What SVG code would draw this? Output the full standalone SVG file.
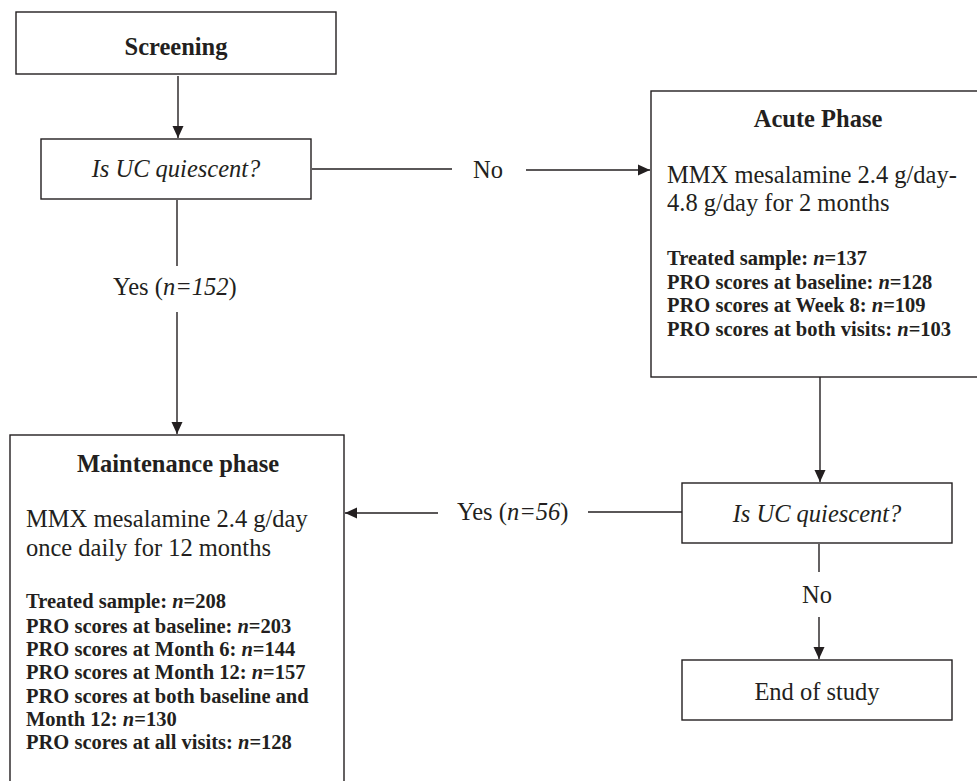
<svg xmlns="http://www.w3.org/2000/svg" width="977" height="781" viewBox="0 0 977 781">
<style>
.box{fill:#fff;stroke:#231f20;stroke-width:1.4}
.ln{fill:none;stroke:#231f20;stroke-width:1.4}
.t{font-family:"Liberation Serif","Times New Roman",serif;fill:#231f20}
.r{font-size:24.5px}
.h{font-size:24.5px;font-weight:bold}
.b{font-size:20.5px;font-weight:bold}
.i{font-style:italic}
</style>
<defs>
<marker id="ah" markerUnits="userSpaceOnUse" markerWidth="12" markerHeight="12" viewBox="0 0 12 12" refX="12" refY="6" orient="auto">
<path d="M0,0.5 L12,6 L0,11.5 Z" fill="#231f20"/>
</marker>
</defs>
<rect width="977" height="781" fill="#fff"/>
<g id="connectors">
<line class="ln" x1="178" y1="76" x2="178" y2="138" marker-end="url(#ah)"/>
<line class="ln" x1="312" y1="169" x2="452" y2="169"/>
<line class="ln" x1="526" y1="170" x2="650" y2="170" marker-end="url(#ah)"/>
<line class="ln" x1="177" y1="200" x2="177" y2="266"/>
<line class="ln" x1="177" y1="312" x2="177" y2="434" marker-end="url(#ah)"/>
<line class="ln" x1="820" y1="377" x2="820" y2="482" marker-end="url(#ah)"/>
<line class="ln" x1="682" y1="512" x2="588" y2="512"/>
<line class="ln" x1="438" y1="513" x2="345" y2="513" marker-end="url(#ah)"/>
<line class="ln" x1="819" y1="544" x2="819" y2="572"/>
<line class="ln" x1="819" y1="617" x2="819" y2="659" marker-end="url(#ah)"/>
<text class="t r" x="473" y="178">No</text>
<text class="t r" x="113" y="295">Yes (<tspan class="i">n=152</tspan>)</text>
<text class="t r" x="457" y="520">Yes (<tspan class="i">n=56</tspan>)</text>
<text class="t r" x="817" y="603" text-anchor="middle">No</text>
</g>
<g id="screening">
<rect class="box" x="16" y="12" width="320" height="62"/>
<text class="t h" x="176" y="55" text-anchor="middle">Screening</text>
</g>
<g id="decision1">
<rect class="box" x="41" y="139" width="270" height="60"/>
<text class="t r i" x="176" y="177" text-anchor="middle">Is UC quiescent?</text>
</g>
<g id="acute">
<rect class="box" x="651" y="91" width="340" height="286"/>
<text class="t h" x="818" y="127" text-anchor="middle">Acute Phase</text>
<text class="t r" x="667" y="183">MMX mesalamine 2.4 g/day-</text>
<text class="t r" x="667" y="211">4.8 g/day for 2 months</text>
<text class="t b" x="667" y="265">Treated sample: <tspan class="i">n</tspan>=137</text>
<text class="t b" x="667" y="289">PRO scores at baseline: <tspan class="i">n</tspan>=128</text>
<text class="t b" x="667" y="312">PRO scores at Week 8: <tspan class="i">n</tspan>=109</text>
<text class="t b" x="667" y="336">PRO scores at both visits: <tspan class="i">n</tspan>=103</text>
</g>
<g id="maintenance">
<rect class="box" x="10" y="435" width="334" height="360"/>
<text class="t h" x="178" y="472" text-anchor="middle">Maintenance phase</text>
<text class="t r" x="26" y="527">MMX mesalamine 2.4 g/day</text>
<text class="t r" x="26" y="556">once daily for 12 months</text>
<text class="t b" x="26" y="608">Treated sample: <tspan class="i">n</tspan>=208</text>
<text class="t b" x="26" y="633">PRO scores at baseline: <tspan class="i">n</tspan>=203</text>
<text class="t b" x="26" y="656">PRO scores at Month 6: <tspan class="i">n</tspan>=144</text>
<text class="t b" x="26" y="679">PRO scores at Month 12: <tspan class="i">n</tspan>=157</text>
<text class="t b" x="26" y="703">PRO scores at both baseline and</text>
<text class="t b" x="26" y="726">Month 12: <tspan class="i">n</tspan>=130</text>
<text class="t b" x="26" y="749">PRO scores at all visits: <tspan class="i">n</tspan>=128</text>
</g>
<g id="decision2">
<rect class="box" x="682" y="483" width="270" height="60"/>
<text class="t r i" x="817" y="522" text-anchor="middle">Is UC quiescent?</text>
</g>
<g id="end">
<rect class="box" x="682" y="660" width="270" height="60"/>
<text class="t r" x="817" y="700" text-anchor="middle">End of study</text>
</g>
</svg>
